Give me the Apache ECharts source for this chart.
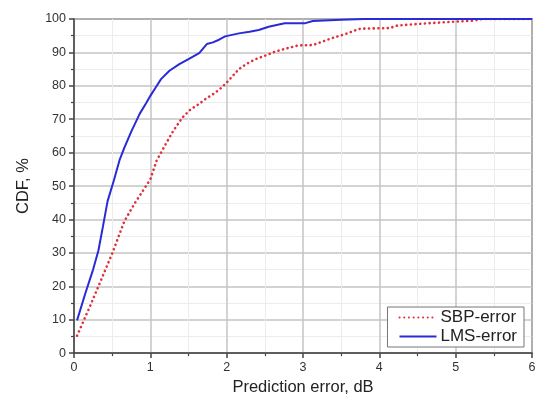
<!DOCTYPE html>
<html>
<head>
<meta charset="utf-8">
<script src="https://cdn.jsdelivr.net/npm/echarts@6/dist/echarts.min.js"></script>
<style>
  html, body { margin: 0; padding: 0; background: #fff; }
  #chart { width: 539px; height: 401px; }
</style>
</head>
<body>
<div id="chart"></div>
<script>
// error (dB), CDF (%)
const sbpError = [0.04, 0.2, 0.32, 0.5, 0.66, 0.8, 0.9, 1.0, 1.08, 1.2, 1.3, 1.42, 1.53, 1.64, 1.72, 1.82, 1.9, 1.98, 2.08, 2.16, 2.27, 2.37, 2.5, 2.63, 2.8, 2.94, 3.13, 3.25, 3.37, 3.5, 3.58, 3.67, 3.75, 3.97, 4.14, 4.23, 4.32, 4.62, 4.97, 5.23, 5.35, 6.0];
const sbpCdf   = [5.2, 13.5, 20, 29.8, 39.5, 45, 48.5, 52, 57.5, 62.5, 66.5, 70.5, 73, 74.6, 76, 77.5, 78.8, 80.5, 83, 85, 86.7, 87.9, 89, 90.2, 91.3, 92.1, 92.2, 93.2, 94.2, 95.1, 95.7, 96.5, 97.1, 97.2, 97.3, 98, 98.2, 98.7, 99.2, 99.5, 100, 100];
const lmsError = [0.04, 0.15, 0.25, 0.32, 0.38, 0.44, 0.52, 0.6, 0.66, 0.75, 0.86, 0.95, 1.0, 1.07, 1.14, 1.25, 1.38, 1.5, 1.64, 1.74, 1.82, 1.9, 1.98, 2.16, 2.3, 2.42, 2.55, 2.76, 3.02, 3.13, 3.5, 3.8, 6.0];
const lmsCdf   = [9.8, 18, 25, 30.7, 38, 45.5, 51.5, 58, 61.5, 66.3, 71.6, 75, 77, 79.5, 82, 84.5, 86.5, 88, 89.8, 92.5, 93, 93.8, 94.8, 95.7, 96.2, 96.7, 97.7, 98.7, 98.7, 99.4, 99.8, 100, 100];
const seriesNames = ['SBP-error', 'LMS-error'];

const pair = (xs, ys) => xs.map((x, i) => [x, ys[i]]);
const font = 'Liberation Sans, Arial, sans-serif';

const chart = echarts.init(document.getElementById('chart'));
chart.setOption({
  backgroundColor: '#fff',
  animation: false,
  grid: {
    left: 74, right: 7, top: 19, bottom: 44,
    show: true, borderColor: '#444', borderWidth: 1.5, backgroundColor: 'transparent'
  },
  legend: {
    orient: 'vertical',
    right: 15, bottom: 54,
    backgroundColor: '#fff',
    borderColor: '#777', borderWidth: 1,
    padding: [2, 7, 2, 11],
    itemGap: 2,
    itemWidth: 37, itemHeight: 10,
    itemStyle: { opacity: 0 },
    lineStyle: { opacity: 1 },
    textStyle: { fontFamily: font, fontSize: 17, color: '#222', padding: [0, 0, 0, -1] },
    data: seriesNames
  },
  xAxis: {
    type: 'value', min: 0, max: 6, interval: 1,
    name: 'Prediction error, dB', nameLocation: 'middle', nameGap: 19,
    nameTextStyle: { fontFamily: font, fontSize: 16.5, color: '#222' },
    axisLine: { lineStyle: { color: '#444', width: 1.5 } },
    axisTick: { inside: false, length: 5, lineStyle: { color: '#444', width: 1.5 } },
    minorTick: { show: true, splitNumber: 2, length: 3, lineStyle: { color: '#444', width: 1.2 } },
    axisLabel: { fontFamily: font, fontSize: 12.5, color: '#333', margin: 8 },
    splitLine: { show: true, lineStyle: { color: '#c4c4c4', width: 1.5 } },
    minorSplitLine: { show: true, lineStyle: { color: '#ececec', width: 1 } }
  },
  yAxis: {
    type: 'value', min: 0, max: 100, interval: 10,
    name: 'CDF, %', nameLocation: 'middle', nameGap: 42, nameRotate: 90,
    nameTextStyle: { fontFamily: font, fontSize: 16.5, color: '#222' },
    axisLine: { show: true, lineStyle: { color: '#444', width: 1.5 } },
    axisTick: { show: true, inside: false, length: 5, lineStyle: { color: '#444', width: 1.5 } },
    minorTick: { show: true, splitNumber: 2, length: 3, lineStyle: { color: '#444', width: 1.2 } },
    axisLabel: { fontFamily: font, fontSize: 12.5, color: '#333', margin: 8 },
    splitLine: { show: true, lineStyle: { color: '#c4c4c4', width: 1.5 } },
    minorSplitLine: { show: true, lineStyle: { color: '#ececec', width: 1 } }
  },
  series: [
    {
      name: seriesNames[0], type: 'line', showSymbol: false, symbol: 'none',
      data: pair(sbpError, sbpCdf), z: 3,
      color: '#e0303a',
      lineStyle: { color: '#e0303a', width: 2.6, type: [0.1, 4.6], cap: 'round' }
    },
    {
      name: seriesNames[1], type: 'line', showSymbol: false, symbol: 'none',
      data: pair(lmsError, lmsCdf), z: 4,
      color: '#2a2ad6',
      lineStyle: { color: '#2a2ad6', width: 2 }
    }
  ]
});
</script>
</body>
</html>
